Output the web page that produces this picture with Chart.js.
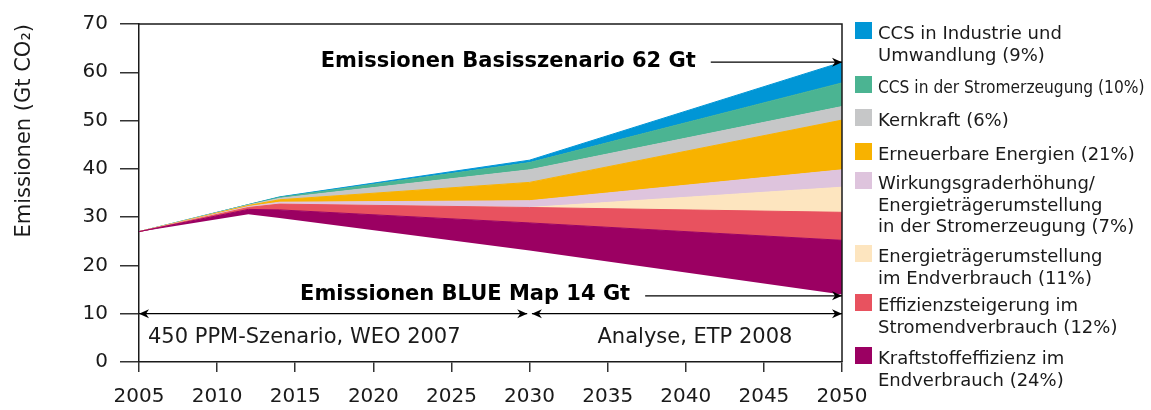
<!DOCTYPE html>
<html lang="de">
<head>
<meta charset="UTF-8">
<title>Emissionen Basisszenario und BLUE Map</title>
<script src="https://cdn.jsdelivr.net/npm/chart.js"></script>
<style>
  body { margin: 0; background: #fff; }
  #wrap { position: relative; width: 1151px; height: 410px; }
  #legend { position: absolute; left: 0; top: 0; font-family: 'DejaVu Sans', sans-serif; font-size: 18px; line-height: 21.5px; color: #1a1a1a; }
  .sw { position: absolute; left: 855px; width: 17px; height: 17px; }
  .lb { position: absolute; left: 878px; white-space: nowrap; }
  .narrow { display: inline-block; transform: scaleX(0.86); transform-origin: left center; }
</style>
</head>
<body>
<div id="wrap">
  <canvas id="emissionChart" width="1151" height="410"></canvas>
  <div id="legend"></div>
</div>
<script>
// data (Gt CO2), stacked from the BLUE Map line upwards
const years        = [2005, 2012, 2014, 2030, 2050];
const blueMap      = [27.0, 30.6, 29.8, 23.1, 14.0];
const kraftstoff   = [0, 1.0, 1.7, 5.7, 11.2];
const stromEff     = [0, 0.4, 1.2, 3.2, 5.8];
const endverbrauch = [0, 0, 0, 0, 5.2];
const wirkungsgrad = [0, 0.2, 0.4, 1.4, 3.6];
const erneuerbare  = [0, 0.2, 0.5, 3.8, 10.3];
const kernkraft    = [0, 0.1, 0.3, 2.6, 2.8];
const ccsStrom     = [0, 0.1, 0.2, 1.5, 4.9];
const ccsIndustrie = [0, 0, 0.1, 0.5, 4.3];

const xTicks = [2005, 2050, 5];   // min, max, step
const yTicks = [0, 70, 10];

// bottom to top
const seriesNames = [
  ['Kraftstoffeffizienz im', 'Endverbrauch (24%)'],
  ['Effizienzsteigerung im', 'Stromendverbrauch (12%)'],
  ['Energieträgerumstellung', 'im Endverbrauch (11%)'],
  ['Wirkungsgraderhöhung/', 'Energieträgerumstellung', 'in der Stromerzeugung (7%)'],
  ['Erneuerbare Energien (21%)'],
  ['Kernkraft (6%)'],
  ['CCS in der Stromerzeugung (10%)'],
  ['CCS in Industrie und', 'Umwandlung (9%)']
];
const seriesData = [kraftstoff, stromEff, endverbrauch, wirkungsgrad, erneuerbare, kernkraft, ccsStrom, ccsIndustrie];
const seriesColors = ['#9b0062', '#e8525f', '#fde5bf', '#dec4dd', '#f8b200', '#c6c7c8', '#4bb492', '#0096d6'];

// annotations, in data units
const baseNote = { text: 'Emissionen Basisszenario 62 Gt', value: 62.1, from: 2041.6 };
const blueNote = { text: 'Emissionen BLUE Map 14 Gt', value: 13.7, from: 2037.4 };
const periods = [
  { text: '450 PPM-Szenario, WEO 2007', from: 2005, to: 2029.85, align: 'left' },
  { text: 'Analyse, ETP 2008', from: 2030.15, to: 2050, align: 'center' }
];
const periodArrowValue = 10;
const periodTextValue = 5;

const toPoints = arr => years.map((yr, i) => ({ x: yr, y: arr[i] }));

const datasets = [{
  label: 'BLUE Map',
  data: toPoints(blueMap),
  borderWidth: 0,
  borderColor: 'rgba(0,0,0,0)',
  fill: false
}];
seriesData.forEach((arr, i) => {
  datasets.push({
    label: seriesNames[i].join(' '),
    data: toPoints(arr),
    borderColor: seriesColors[i],
    backgroundColor: seriesColors[i],
    borderWidth: 1,
    fill: '-1'
  });
});

function arrowHead(ctx, x, y, dir) {
  ctx.beginPath();
  ctx.moveTo(x, y);
  ctx.lineTo(x - dir * 10, y - 4.5);
  ctx.lineTo(x - dir * 7, y);
  ctx.lineTo(x - dir * 10, y + 4.5);
  ctx.closePath();
  ctx.fill();
}

function arrowLine(ctx, x1, x2, y, both) {
  ctx.beginPath();
  ctx.moveTo(x1, y);
  ctx.lineTo(x2, y);
  ctx.stroke();
  arrowHead(ctx, x2, y, 1);
  if (both) arrowHead(ctx, x1, y, -1);
}

const notesPlugin = {
  id: 'notes',
  afterDraw(chart) {
    const { ctx, chartArea: a, scales: { x, y } } = chart;
    ctx.save();
    // frame top and right
    ctx.strokeStyle = '#1a1a1a';
    ctx.lineWidth = 1.5;
    ctx.beginPath();
    ctx.moveTo(a.left, a.top);
    ctx.lineTo(a.right, a.top);
    ctx.lineTo(a.right, a.bottom);
    ctx.stroke();

    ctx.fillStyle = '#000';
    ctx.strokeStyle = '#000';
    ctx.lineWidth = 1.2;
    ctx.font = 'bold 21px "DejaVu Sans"';
    ctx.textBaseline = 'alphabetic';
    ctx.textAlign = 'right';
    [baseNote, blueNote].forEach(n => {
      const yy = y.getPixelForValue(n.value);
      const x1 = x.getPixelForValue(n.from);
      ctx.fillText(n.text, x1 - 15, yy + 4.5);
      arrowLine(ctx, x1, x.getPixelForValue(x.max), yy, false);
    });

    ctx.font = '21px "DejaVu Sans"';
    ctx.textBaseline = 'middle';
    const ya = y.getPixelForValue(periodArrowValue);
    const yt = y.getPixelForValue(periodTextValue);
    periods.forEach(p => {
      const x1 = x.getPixelForValue(p.from);
      const x2 = x.getPixelForValue(p.to);
      ctx.fillStyle = '#000';
      arrowLine(ctx, x1, x2, ya, true);
      ctx.fillStyle = '#1a1a1a';
      if (p.align === 'left') {
        ctx.textAlign = 'left';
        ctx.fillText(p.text, x1 + 9, yt);
      } else {
        ctx.textAlign = 'center';
        ctx.fillText(p.text, (x1 + x2) / 2 + 8, yt);
      }
    });
    ctx.restore();
  }
};

const ctx = document.getElementById('emissionChart').getContext('2d');
const emissionChart = new Chart(ctx, {
  type: 'line',
  data: { datasets: datasets },
  options: {
    responsive: false,
    animation: false,
    layout: { padding: { left: 0, top: 22, right: 309, bottom: 0 } },
    elements: { point: { radius: 0 }, line: { tension: 0 } },
    plugins: { legend: { display: false }, tooltip: { enabled: false } },
    scales: {
      x: {
        type: 'linear',
        min: xTicks[0],
        max: xTicks[1],
        afterFit: s => { s.height = 48; },
        border: { display: true, color: '#1a1a1a', width: 1.5 },
        grid: { drawOnChartArea: false, drawTicks: true, tickLength: 10, color: '#333', lineWidth: 1.5 },
        ticks: {
          stepSize: xTicks[2],
          padding: 13,
          color: '#1a1a1a',
          font: { family: 'DejaVu Sans', size: 20 },
          callback: v => String(v),
          maxRotation: 0
        }
      },
      y: {
        stacked: true,
        min: yTicks[0],
        max: yTicks[1],
        afterFit: s => { s.width = 139; },
        border: { display: true, color: '#1a1a1a', width: 1.5 },
        grid: { drawOnChartArea: false, drawTicks: true, tickLength: 19, color: '#333', lineWidth: 1.5 },
        ticks: {
          stepSize: yTicks[2],
          padding: 12,
          color: '#1a1a1a',
          font: { family: 'DejaVu Sans', size: 20 }
        },
        title: {
          display: true,
          text: 'Emissionen (Gt CO₂)',
          align: 'end',
          color: '#1a1a1a',
          font: { family: 'DejaVu Sans', size: 21 },
          padding: { top: 12, bottom: 0 }
        }
      }
    }
  },
  plugins: [notesPlugin]
});

// legend, top to bottom
const legendTops = [22, 76, 109, 143, 172, 245, 294, 347];
const legendEl = document.getElementById('legend');
for (let k = 0; k < seriesNames.length; k++) {
  const i = seriesNames.length - 1 - k;
  const sw = document.createElement('div');
  sw.className = 'sw';
  sw.style.top = legendTops[k] + 'px';
  sw.style.background = seriesColors[i];
  legendEl.appendChild(sw);
  const lb = document.createElement('div');
  lb.className = 'lb';
  lb.style.top = legendTops[k] + 'px';
  seriesNames[i].forEach((line, j) => {
    if (j) lb.appendChild(document.createElement('br'));
    const span = document.createElement('span');
    if (line.length > 28) span.className = 'narrow';
    span.textContent = line;
    lb.appendChild(span);
  });
  legendEl.appendChild(lb);
}
</script>
</body>
</html>
